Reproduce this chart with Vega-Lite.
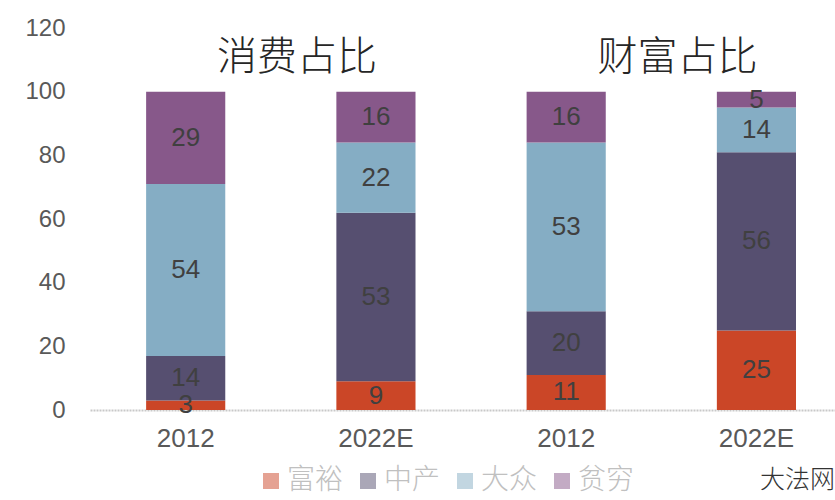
{
  "$schema": "https://vega.github.io/schema/vega-lite/v6.json",
  "autosize": {"type": "none"},
  "width": 745,
  "height": 382,
  "padding": {"left": 90, "top": 28, "right": 0, "bottom": 90},
  "background": "white",
  "config": {
    "view": {"stroke": null},
    "font": "Liberation Sans"
  },
  "data": {
    "values": [
      {"cat": "c2012", "grp": "富裕", "k": 1, "v": 3},
      {"cat": "c2012", "grp": "中产", "k": 2, "v": 14},
      {"cat": "c2012", "grp": "大众", "k": 3, "v": 54},
      {"cat": "c2012", "grp": "贫穷", "k": 4, "v": 29},
      {"cat": "c2022E", "grp": "富裕", "k": 1, "v": 9},
      {"cat": "c2022E", "grp": "中产", "k": 2, "v": 53},
      {"cat": "c2022E", "grp": "大众", "k": 3, "v": 22},
      {"cat": "c2022E", "grp": "贫穷", "k": 4, "v": 16},
      {"cat": "w2012", "grp": "富裕", "k": 1, "v": 11},
      {"cat": "w2012", "grp": "中产", "k": 2, "v": 20},
      {"cat": "w2012", "grp": "大众", "k": 3, "v": 53},
      {"cat": "w2012", "grp": "贫穷", "k": 4, "v": 16},
      {"cat": "w2022E", "grp": "富裕", "k": 1, "v": 25},
      {"cat": "w2022E", "grp": "中产", "k": 2, "v": 56},
      {"cat": "w2022E", "grp": "大众", "k": 3, "v": 14},
      {"cat": "w2022E", "grp": "贫穷", "k": 4, "v": 5}
    ]
  },
  "encoding": {
    "x": {
      "field": "cat",
      "type": "nominal",
      "sort": ["c2012", "c2022E", "w2012", "w2022E"],
      "scale": {"paddingInner": 0.584, "paddingOuter": 0.25, "align": 0.59},
      "axis": {
        "title": null,
        "labelAngle": 0,
        "labelExpr": "slice(datum.label, 1)",
        "labelFontSize": 26,
        "labelColor": "#595959",
        "labelPadding": 15,
        "ticks": false,
        "domainColor": "#C8C8C8",
        "domainWidth": 2,
        "domainDash": [2, 1]
      }
    }
  },
  "layer": [
    {
      "mark": {"type": "bar"},
      "encoding": {
        "y": {
          "field": "v",
          "type": "quantitative",
          "stack": "zero",
          "scale": {"domain": [0, 120]},
          "axis": {
            "title": null,
            "values": [0, 20, 40, 60, 80, 100, 120],
            "grid": false,
            "domain": false,
            "ticks": false,
            "labelFontSize": 24,
            "labelColor": "#595959",
            "labelPadding": 25
          }
        },
        "color": {
          "field": "grp",
          "type": "nominal",
          "scale": {
            "domain": ["富裕", "中产", "大众", "贫穷"],
            "range": ["#CB4627", "#564F70", "#85ADC4", "#87588A"]
          },
          "legend": {
            "title": null,
            "orient": "none",
            "direction": "horizontal",
            "legendX": 167,
            "legendY": 439,
            "symbolType": "square",
            "symbolSize": 256,
            "symbolOpacity": 0.5,
            "symbolStrokeWidth": 0,
            "labelFont": "Noto Sans CJK SC",
            "labelFontSize": 28,
            "labelFontWeight": 300,
            "labelColor": "#C0C0C0",
            "labelOffset": 2,
            "columnPadding": 10
          }
        },
        "order": {"field": "k", "sort": "ascending"}
      }
    },
    {
      "mark": {"type": "text", "fontSize": 26, "color": "#404040"},
      "encoding": {
        "y": {"field": "v", "type": "quantitative", "stack": "zero", "bandPosition": 0.5},
        "text": {"field": "v", "type": "quantitative"},
        "detail": {"field": "grp"},
        "order": {"field": "k", "sort": "ascending"}
      }
    },
    {
      "data": {
        "values": [
          {"cat": "c2022E", "y": 110.5, "t": "消费占比"},
          {"cat": "w2022E", "y": 110.5, "t": "财富占比"}
        ]
      },
      "mark": {"type": "text", "font": "Noto Sans CJK SC", "fontSize": 40, "fontWeight": 300, "color": "#262626", "dx": -79},
      "encoding": {
        "y": {"field": "y", "type": "quantitative"},
        "text": {"field": "t"}
      }
    },
    {
      "data": {
        "values": [
          {"cat": "w2022E", "y": -22, "t": "大法网"}
        ]
      },
      "mark": {"type": "text", "font": "Noto Sans CJK SC", "fontSize": 25, "fontWeight": 300, "color": "#333333", "dx": 41, "clip": false},
      "encoding": {
        "y": {"field": "y", "type": "quantitative"},
        "text": {"field": "t"}
      }
    }
  ]
}
